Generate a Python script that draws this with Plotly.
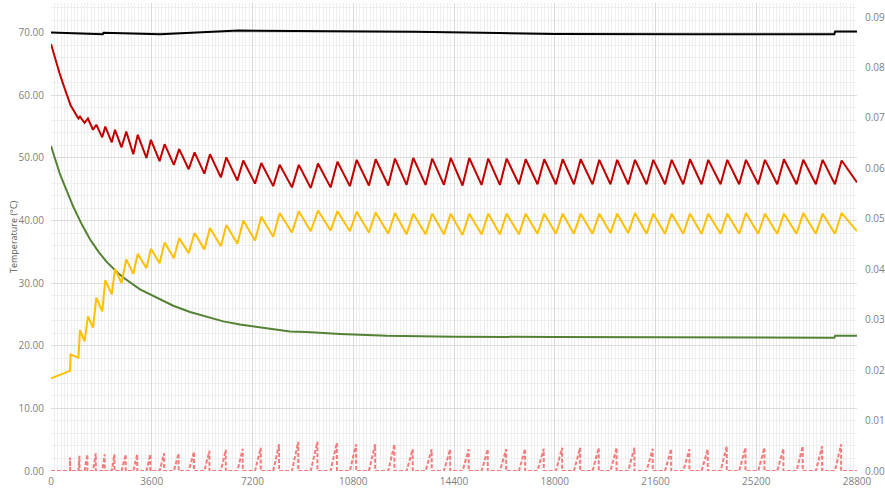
import plotly.graph_objects as go

# ---------------- data ----------------
# time axis ticks (s)
x_ticks = [0, 3600, 7200, 10800, 14400, 18000, 21600, 25200, 28800]

# cycle timing shared by the oscillating series (s)
cycle_peak_t = [700, 1036, 1320, 1620, 1940, 2287, 2690, 3100, 3570, 4060,
                4580, 5130, 5681, 6265, 6871, 7515, 8170, 8855, 9540, 10235,
                10923, 11602, 12291, 12945, 13624, 14282, 14946, 15625, 16282, 16961,
                17626, 18283, 18926, 19591, 20230, 20867, 21521, 22178, 22832, 23486,
                24165, 24833, 25512, 26190, 26880, 27573, 28252]
cycle_trough_t = [680, 980, 1200, 1500, 1830, 2170, 2520, 2940, 3410, 3880,
                  4390, 4920, 5480, 6070, 6660, 7290, 7940, 8610, 9280, 9990,
                  10680, 11360, 12050, 12705, 13385, 14040, 14705, 15385, 16040, 16720,
                  17385, 18040, 18685, 19350, 19990, 20625, 21280, 21940, 22590, 23245,
                  23925, 24590, 25270, 25950, 26640, 27330, 28010]

# red series (°C)
red_head_t = [0, 150, 300, 450, 600]
red_head_v = [68.2, 65.8, 63.6, 61.6, 59.8]
red_peak = [58.4, 56.6, 56.3, 55.3, 55.0, 54.5, 54.2, 53.7, 52.9, 52.2,
            51.4, 50.9, 50.6, 50.1, 49.6, 49.2, 48.9, 48.9, 49.1, 49.4,
            49.7, 49.8, 49.9, 50.0, 49.9, 50.0, 50.0, 49.9, 49.9, 49.8,
            49.8, 49.8, 49.8, 49.7, 49.7, 49.7, 49.7, 49.7, 49.8, 49.7,
            49.7, 49.7, 49.7, 49.8, 49.7, 49.7, 49.6]
red_trough = [58.5, 56.3, 55.6, 54.5, 53.3, 52.5, 51.7, 50.6, 50.0, 49.5,
              48.9, 48.2, 47.5, 46.9, 46.4, 45.9, 45.5, 45.3, 45.2, 45.3,
              45.5, 45.6, 45.6, 45.7, 45.7, 45.7, 45.6, 45.7, 45.7, 45.8,
              45.8, 45.8, 45.8, 45.8, 45.8, 45.8, 45.8, 45.8, 45.8, 45.8,
              45.8, 45.8, 45.8, 45.8, 45.8, 45.8, 45.8]
red_end = (28800, 46.1)

# yellow series (°C)
yellow_head_t = [0]
yellow_head_v = [14.8]
yellow_peak = [18.6, 22.5, 24.7, 27.7, 30.5, 32.3, 33.8, 34.7, 35.5, 36.5,
               37.2, 38.0, 38.8, 39.3, 40.0, 40.6, 41.2, 41.5, 41.6, 41.5,
               41.4, 41.3, 41.2, 41.1, 41.1, 41.1, 41.1, 41.1, 41.1, 41.1,
               41.1, 41.1, 41.1, 41.1, 41.1, 41.2, 41.1, 41.1, 41.1, 41.1,
               41.1, 41.2, 41.1, 41.1, 41.2, 41.1, 41.2]
yellow_trough = [16.0, 18.1, 20.7, 22.9, 25.5, 28.2, 30.0, 31.5, 32.4, 33.2,
                 34.0, 34.8, 35.4, 35.9, 36.3, 36.8, 37.4, 38.1, 38.3, 38.4,
                 38.3, 38.1, 37.9, 37.8, 37.8, 37.8, 37.7, 37.8, 37.8, 37.8,
                 37.9, 37.9, 37.9, 37.9, 38.0, 38.0, 37.9, 37.9, 37.9, 37.9,
                 37.9, 37.9, 37.9, 37.9, 37.9, 37.9, 37.9]
yellow_end = (28800, 38.3)

# green series (°C)
green_t = [0, 322, 560, 797, 1100, 1393, 1700, 1990, 2400, 2583, 3180, 3777, 4370,
           4967, 5563, 6156, 6753, 7350, 7943, 8540, 9136, 9730, 10326, 12000,
           14400, 18000, 21600, 25200, 27990, 28020, 28800]
green_v = [51.9, 47.4, 44.8, 42.2, 39.4, 37.0, 35.0, 33.4, 31.6, 30.9, 29.0, 27.7, 26.4,
           25.4, 24.6, 23.9, 23.4, 23.0, 22.6, 22.3, 22.2, 22.0, 21.9, 21.6,
           21.45, 21.4, 21.35, 21.3, 21.3, 21.6, 21.6]

# black series (°C)
black_t = [0, 1500, 1850, 1880, 3900, 6700, 10300, 13000, 16000, 18000, 23000, 27990, 28020, 28800]
black_v = [70.05, 69.9, 69.75, 70.0, 69.75, 70.35, 70.3, 70.15, 69.95, 69.8, 69.75, 69.75, 70.2, 70.2]

# pink spikes (right axis)
pink_peak = [0.0027, 0.0030, 0.0033, 0.0035, 0.0033, 0.0033, 0.0033, 0.0033, 0.0033, 0.0035,
             0.0035, 0.0038, 0.0040, 0.0042, 0.0044, 0.0046, 0.0053, 0.0058, 0.0058, 0.0056,
             0.0053, 0.0053, 0.0053, 0.0043, 0.0043, 0.0043, 0.0043, 0.0043, 0.0043, 0.0044,
             0.0044, 0.0046, 0.0046, 0.0046, 0.0046, 0.0046, 0.0044, 0.0044, 0.0043, 0.0043,
             0.0049, 0.0046, 0.0046, 0.0044, 0.0049, 0.0049, 0.0053]

y_left_ticks = [0, 10, 20, 30, 40, 50, 60, 70]
y_right_ticks = [0, 0.01, 0.02, 0.03, 0.04, 0.05, 0.06, 0.07, 0.08, 0.09]


# ---------------- build polylines from the read vertices ----------------
def cycle_line(head_t, head_v, troughs, peaks, end):
    xs, ys = list(head_t), list(head_v)
    for tt, tv, pt, pv in zip(cycle_trough_t, troughs, cycle_peak_t, peaks):
        xs += [tt, pt]
        ys += [tv, pv]
    xs.append(end[0])
    ys.append(end[1])
    return xs, ys


red_x, red_y = cycle_line(red_head_t, red_head_v, red_trough, red_peak, red_end)
yel_x, yel_y = cycle_line(yellow_head_t, yellow_head_v, yellow_trough, yellow_peak, yellow_end)

pink_x, pink_y = [0], [0]
for tt, pt, h in zip(cycle_trough_t, cycle_peak_t, pink_peak):
    pink_x += [tt, pt - 20, pt - 19]
    pink_y += [0, h, 0]
pink_x.append(28800)
pink_y.append(0)

FONT = "Open Sans, Noto Sans, sans-serif"
TICK_COLOR = "#7f7f7f"

fig = go.Figure()
fig.add_trace(go.Scatter(x=pink_x, y=pink_y, yaxis="y2", mode="lines",
                         line=dict(color="#f47c7c", width=2, dash="4px,2px"),
                         showlegend=False, hoverinfo="skip"))
fig.add_trace(go.Scatter(x=green_t, y=green_v, mode="lines",
                         line=dict(color="#548235", width=2), showlegend=False))
fig.add_trace(go.Scatter(x=yel_x, y=yel_y, mode="lines",
                         line=dict(color="#ffc000", width=2), showlegend=False))
fig.add_trace(go.Scatter(x=red_x, y=red_y, mode="lines",
                         line=dict(color="#c00000", width=2), showlegend=False))
fig.add_trace(go.Scatter(x=black_t, y=black_v, mode="lines",
                         line=dict(color="#000000", width=2), showlegend=False))

fig.update_layout(
    width=885, height=488,
    margin=dict(l=51, r=28, t=3, b=17),
    paper_bgcolor="white", plot_bgcolor="white",
    font=dict(family=FONT, size=10, color=TICK_COLOR),
    xaxis=dict(range=[0, 28800], tickvals=x_ticks, ticktext=[str(v) for v in x_ticks],
               showgrid=True, gridcolor="#d9d9d9", gridwidth=1, zeroline=False,
               ticks="outside", ticklen=1, tickcolor="rgba(0,0,0,0)",
               automargin=False,
               minor=dict(dtick=120, showgrid=True, gridcolor="#efefef", gridwidth=1),
               tickfont=dict(size=10, color=TICK_COLOR)),
    yaxis=dict(range=[0, 74.75], tickvals=y_left_ticks, tickformat=".2f",
               showgrid=True, gridcolor="#dcdcdc", gridwidth=1, zeroline=False,
               automargin=False,
               minor=dict(dtick=2, showgrid=True, gridcolor="#eeeeee", gridwidth=1),
               tickfont=dict(size=10, color=TICK_COLOR), ticklabelstandoff=6),
    yaxis2=dict(range=[0, 0.0928], tickvals=y_right_ticks, tickformat=".2f",
                overlaying="y", side="right", showgrid=False, zeroline=False,
                automargin=False,
                tickfont=dict(size=10, color=TICK_COLOR), ticklabelstandoff=7),
    annotations=[dict(text="Temperature (°C)", textangle=-90, xref="paper", yref="paper",
                      x=-38 / 806, y=0.5, xanchor="center", yanchor="middle",
                      showarrow=False, font=dict(size=9, color="#595959", family=FONT))],
)

fig.write_html("out.html", config={"displayModeBar": False},
               post_script="document.body.style.margin='0';")
